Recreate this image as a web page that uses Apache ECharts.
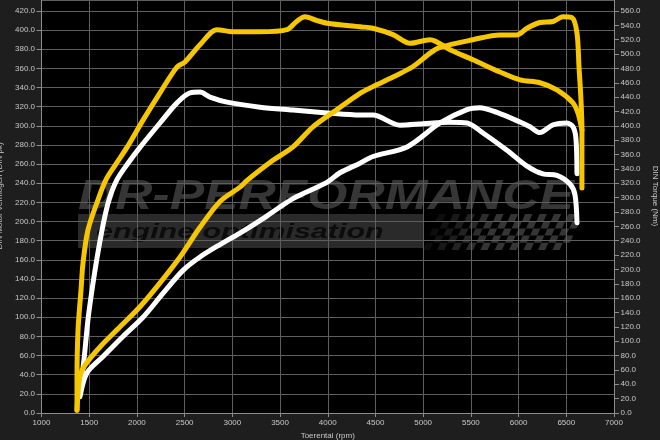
<!DOCTYPE html>
<html><head><meta charset="utf-8">
<script src="https://cdn.jsdelivr.net/npm/echarts@6/dist/echarts.min.js"></script>
<style>html,body{margin:0;padding:0;background:#1e1e1e}#c{width:660px;height:440px}</style>
</head><body><div id="c"></div><script>
// Tuned (yellow) torque, Nm (right axis)
const rpmTunedTorque = [1372,1372,1383,1414,1435,1487,1592,1676,1771,1896,2064,2242,2420,2504,2661,2839,3007,3290,3573,3670,3762,3880,3992,4338,4474,4684,4862,5072,5281,5522,5805,6015,6224,6402,6570,6622,6654,6664];
const nmTunedTorque  = [4,46,116,171,209,255,297,325,345,370,408,446,482,489,513,534,531,531,534,545,552,547,543,538,536,527,515,520,506,492,475,464,460,450,432,418,401,394];
// Tuned (yellow) power, pk (left axis)
const rpmTunedPower = [1372,1403,1456,1613,1823,2032,2242,2452,2661,2871,3080,3154,3426,3636,3845,4097,4338,4474,4684,4894,5072,5176,5522,5805,5983,6088,6224,6360,6465,6559,6612,6633,6654,6664,6664];
const pkTunedPower  = [3,38,50,69,90,111,136,163,194,221,236,243,264,278,299,317,334,341,351,362,376,382,390,395,395,402,408,409,414,413,397,362,327,296,235];
// Stock (white) torque, Nm (right axis)
const rpmStockTorque = [1403,1445,1487,1529,1582,1645,1708,1791,1907,2032,2242,2420,2556,2661,2766,2944,3290,3636,3992,4338,4474,4757,4998,5281,5459,5627,5878,6088,6255,6402,6538,6591,6612];
const nmStockTorque  = [32,74,130,171,216,262,297,325,348,370,404,432,446,447,440,433,426,422,418,415,415,401,403,405,404,390,366,344,333,331,319,304,265];
// Stock (white) power, pk (left axis)
const rpmStockPower = [1403,1477,1645,1854,2064,2273,2483,2661,2871,3080,3350,3636,3992,4128,4338,4474,4831,5176,5459,5595,5773,6015,6119,6224,6360,6507,6570,6601,6612];
const pkStockPower  = [17,42,59,80,100,125,149,163,176,188,205,224,241,251,261,268,278,303,317,319,314,304,299,293,301,303,299,287,250];

const xTicks = {min:1000, max:7000, step:500};
const leftAxis = {name:'DIN Motor Vermogen (DIN pk)', min:0, max:431.5, step:20};
const rightAxis = {name:'DIN Torque (Nm)', min:0, max:575.3, step:20};

const pairs = (xs, ys) => xs.map((x,i)=>[x, ys[i]]);
const FONT = 'Liberation Sans';
const LBL = '#c8c8c8', TICK = '#8c8c8c', GRIDC = '#5e5e5e';
const YEL = '#f6c700', WHT = '#ffffff';

// watermark checkered flag (decoration)
const flag = [];
for (let r = 0; r < 5; r++) {
  for (let c = 0; c < 20; c++) {
    if ((r + c) % 2) continue;
    const s = 7.2, sk = 3.2;
    const x0 = 426 + c * s + (4 - r) * sk, y0 = 214 + r * s;
    flag.push({type:'polygon', z:0, silent:true,
      shape:{points:[[x0,y0],[x0+s,y0],[x0+s-sk,y0+s],[x0-sk,y0+s]]},
      style:{fill:'#353535', opacity: Math.min(1, 0.25 + c/10)}});
  }
}

const chart = echarts.init(document.getElementById('c'), null, {renderer:'canvas'});
chart.setOption({
  animation:false,
  backgroundColor:'#1e1e1e',
  textStyle:{fontFamily:FONT},
  grid:{left:41.5, right:46, top:0, bottom:27, show:true, backgroundColor:'#000', borderWidth:0, containLabel:false, outerBoundsMode:'none'},
  graphic:[
    {type:'rect', z:0, silent:true, shape:{x:78, y:214, width:346, height:34}, style:{fill:'#2a2a2a'}},
    {type:'text', z:0, silent:true, x:78, y:176, scaleX:1.29, scaleY:1.05,
      style:{text:'DR-PERFORMANCE', font:'italic bold 40px "Liberation Sans"', fill:'#363636', textVerticalAlign:'top'}},
    {type:'text', z:0, silent:true, x:96, y:232, scaleX:1.45,
      style:{text:'engine optimisation', font:'italic bold 21px "Liberation Sans"', fill:'#0c0c0c', textVerticalAlign:'middle'}}
  ].concat(flag),
  xAxis:{type:'value', z:1, min:xTicks.min, max:xTicks.max, interval:xTicks.step,
    name:'Toerental (rpm)', nameLocation:'middle', nameGap:17,
    nameTextStyle:{color:LBL, fontSize:8, fontFamily:FONT},
    axisLine:{show:true, onZero:false, lineStyle:{color:TICK}},
    axisTick:{show:true, length:4, lineStyle:{color:TICK}},
    axisLabel:{color:LBL, fontSize:8, margin:6, fontFamily:FONT, formatter:v=>String(v)},
    splitLine:{show:true, lineStyle:{color:GRIDC, width:1}}},
  yAxis:[
    {type:'value', z:1, position:'left', min:leftAxis.min, max:leftAxis.max, interval:leftAxis.step,
      name:leftAxis.name, nameLocation:'middle', nameGap:33,
      nameTextStyle:{color:LBL, fontSize:8, fontFamily:FONT, padding:[0,0,0,21]},
      axisLine:{show:true, lineStyle:{color:TICK}},
      axisTick:{show:true, length:5, lineStyle:{color:TICK}},
      axisLabel:{color:LBL, fontSize:8, margin:6.5, fontFamily:FONT, showMaxLabel:false, formatter:v=>v.toFixed(1)},
      splitLine:{show:true, lineStyle:{color:GRIDC, width:1}}},
    {type:'value', z:1, position:'right', min:rightAxis.min, max:rightAxis.max, interval:rightAxis.step,
      name:rightAxis.name, nameLocation:'middle', nameGap:33, nameRotate:-90,
      nameTextStyle:{color:LBL, fontSize:8, fontFamily:FONT, padding:[0,21,0,0]},
      axisLine:{show:true, lineStyle:{color:TICK}},
      axisTick:{show:true, length:5, lineStyle:{color:TICK}},
      axisLabel:{color:LBL, fontSize:8, margin:6.5, fontFamily:FONT, showMaxLabel:false, formatter:v=>v.toFixed(1)},
      splitLine:{show:false}}
  ],
  series:[
    {type:'line', name:'Stock torque', yAxisIndex:1, data:pairs(rpmStockTorque, nmStockTorque), smooth:0.3, showSymbol:false, lineStyle:{color:WHT, width:5, cap:'round', join:'round'}},
    {type:'line', name:'Stock power', yAxisIndex:0, data:pairs(rpmStockPower, pkStockPower), smooth:0.3, showSymbol:false, lineStyle:{color:WHT, width:5, cap:'round', join:'round'}},
    {type:'line', name:'Tuned torque', yAxisIndex:1, data:pairs(rpmTunedTorque, nmTunedTorque), smooth:0.3, showSymbol:false, lineStyle:{color:YEL, width:5, cap:'round', join:'round'}},
    {type:'line', name:'Tuned power', yAxisIndex:0, data:pairs(rpmTunedPower, pkTunedPower), smooth:0.3, showSymbol:false, lineStyle:{color:YEL, width:5, cap:'round', join:'round'}}
  ]
});
</script></body></html>
